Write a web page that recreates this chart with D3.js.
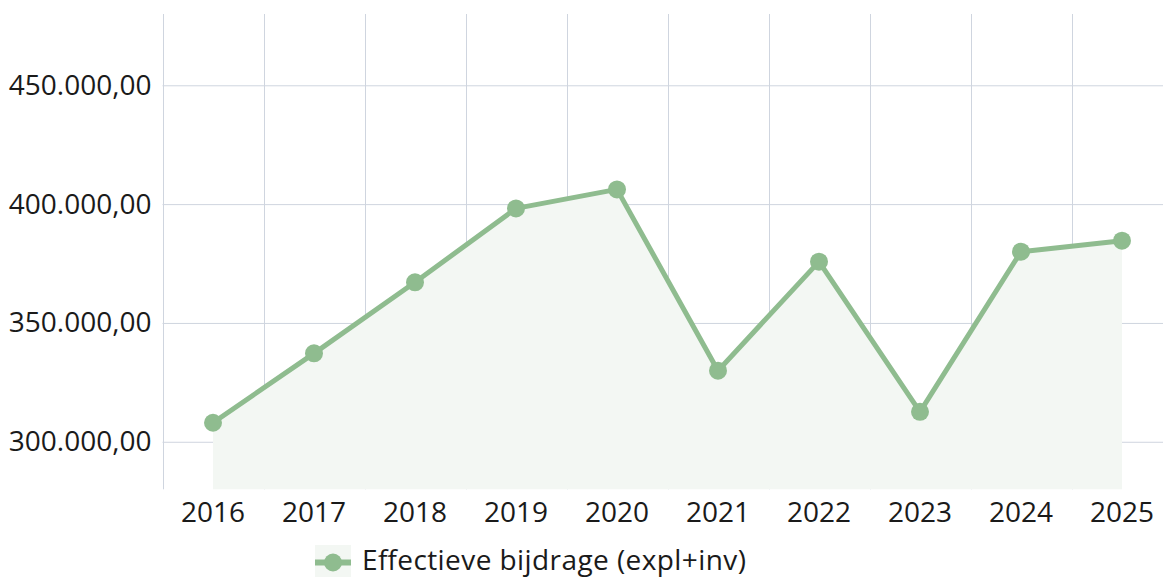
<!DOCTYPE html>
<html>
<head>
<meta charset="utf-8">
<script src="https://cdn.jsdelivr.net/npm/d3@7"></script>
<style>
  html, body { margin: 0; padding: 0; background: #ffffff; }
  svg { display: block; font-family: "Open Sans", "Noto Sans", sans-serif; }
</style>
</head>
<body>
<svg id="chart" width="1163" height="577"></svg>
<script>
const years = ["2016", "2017", "2018", "2019", "2020", "2021", "2022", "2023", "2024", "2025"];
const values = [308000, 337200, 367100, 398200, 406200, 329900, 375800, 312600, 380000, 384600];
const yTicks = [300000, 350000, 400000, 450000];
const seriesName = "Effectieve bijdrage (expl+inv)";

(function () {
const color = "#8fbc8f";
const areaColor = "#f3f7f3";
const gridColor = "#cfd5df";

const svg = d3.select("#chart");
const pLeft = 162.5, pRight = 1172.5, pTop = 14, pBottom = 489.3;

const x = d3.scaleBand().domain(years).range([pLeft, pRight]).padding(0);
const y = d3.scaleLinear().domain([280000, 480000]).range([pBottom, pTop]);

const fmt = v => d3.format(",.2f")(v).replace(/,/g, "#").replace(/\./g, ",").replace(/#/g, ".");

// Horizontal grid
const yAxis = d3.axisLeft(y).tickValues(yTicks).tickSize(-(1163 - pLeft)).tickFormat(fmt).tickPadding(11);
const gy = svg.append("g").attr("transform", `translate(${pLeft},0)`).call(yAxis);
gy.select(".domain").remove();
gy.selectAll(".tick line").attr("stroke", gridColor).attr("stroke-width", 1);
gy.selectAll(".tick text").attr("font-size", 28).attr("fill", "#1a1a1a")
  .attr("font-family", "'Open Sans', sans-serif");

// Vertical grid lines at band boundaries
const bounds = years.map(d => x(d));
svg.append("g").selectAll("line").data(bounds).join("line")
  .attr("x1", d => Math.round(d) + 0.5).attr("x2", d => Math.round(d) + 0.5)
  .attr("y1", pTop).attr("y2", pBottom)
  .attr("stroke", gridColor).attr("stroke-width", 1);

// X axis labels
const xAxis = d3.axisBottom(x).tickSize(0).tickPadding(13);
const gx = svg.append("g").attr("transform", `translate(0,${pBottom})`).call(xAxis);
gx.select(".domain").remove();
gx.selectAll(".tick text").attr("font-size", 28).attr("fill", "#1a1a1a")
  .attr("font-family", "'Open Sans', sans-serif");

const data = years.map((d, i) => ({ year: d, value: values[i] }));
const cx = d => x(d.year) + x.bandwidth() / 2;

// Area
svg.append("path").datum(data)
  .attr("fill", areaColor)
  .attr("d", d3.area().x(cx).y0(pBottom).y1(d => y(d.value)));

// Line
svg.append("path").datum(data)
  .attr("fill", "none").attr("stroke", color).attr("stroke-width", 5)
  .attr("stroke-linejoin", "round")
  .attr("d", d3.line().x(cx).y(d => y(d.value)));

// Points
svg.append("g").selectAll("circle").data(data).join("circle")
  .attr("cx", cx).attr("cy", d => y(d.value)).attr("r", 9)
  .attr("fill", color);

// Legend
const lg = svg.append("g").attr("transform", "translate(315,545)");
lg.append("rect").attr("width", 36).attr("height", 32).attr("fill", areaColor);
lg.append("line").attr("x1", 0).attr("x2", 36).attr("y1", 17.5).attr("y2", 17.5)
  .attr("stroke", color).attr("stroke-width", 6);
lg.append("circle").attr("cx", 18).attr("cy", 17.5).attr("r", 9).attr("fill", color);
lg.append("text").attr("x", 47).attr("y", 25).attr("font-size", 28).attr("fill", "#1a1a1a")
  .attr("font-family", "'Open Sans', sans-serif")
  .attr("textLength", 384).attr("lengthAdjust", "spacing")
  .text(seriesName);
})();
</script>
</body>
</html>
